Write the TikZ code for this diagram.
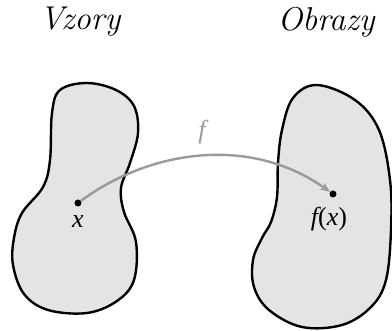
\documentclass[tikz,border=0pt]{standalone}
\usepackage{fontspec}
\newfontfamily\labfont{Liberation Serif}
\usetikzlibrary{arrows.meta}
\definecolor{blobfill}{HTML}{E4E4E4}
\definecolor{arrowgray}{HTML}{9A9A9A}
\tikzset{
  blob/.style={draw=black, line width=2.4pt, fill=blobfill},
  pt/.style={circle, fill=black, inner sep=0pt, minimum size=7pt},
  title/.style={font=\fontsize{33}{36}\selectfont\itshape, inner sep=0pt},
  lab/.style={font=\labfont\fontsize{26}{28}\selectfont, inner sep=0pt},
  maparrow/.style={draw=arrowgray, line width=2.4pt, -{Stealth[length=10pt,width=8pt,inset=3pt]}}
}
\begin{document}
\begin{tikzpicture}[x=1pt,y=-1pt]
\useasboundingbox (0,0) rectangle (392,331);
% left blob
\draw[blob] plot[smooth cycle, tension=0.6] coordinates {
 (87,83) (116,90) (134,106) (138,133) (130,163) (121,188) (124,212) (136,242)
 (134,280) (117,301) (87,313) (48,310) (24,294) (13,265) (14,238) (22,213)
 (43,187) (50,160) (52,113) (60,90)};
% right blob
\draw[blob] plot[smooth cycle, tension=0.6] coordinates {
 (317,85) (355,100) (379,130) (390,180) (391,230) (386,280) (371,307) (342,325)
 (302,327) (269,310) (254,287) (253,260) (262,238) (271,222) (277,197)
 (278,163) (282,130) (293,98)};
\node[title] (vz) at (80,22) {Vzory};
\node[title] (ob) at (326,22) {Obrazy};
\node[pt] (xd) at (78,203) {};
\node[pt] (fxd) at (333,194) {};
\node[lab] (xl) at (78,222) {\itshape x};
\node[lab] (fxl) at (329,219) {\itshape f\upshape(\itshape x\upshape)};
\node[lab, text=arrowgray] (fl) at (202,132) {\itshape f};
\draw[maparrow] (xd) .. controls (150,150) and (250,135) .. (fxd);
\end{tikzpicture}
\end{document}
